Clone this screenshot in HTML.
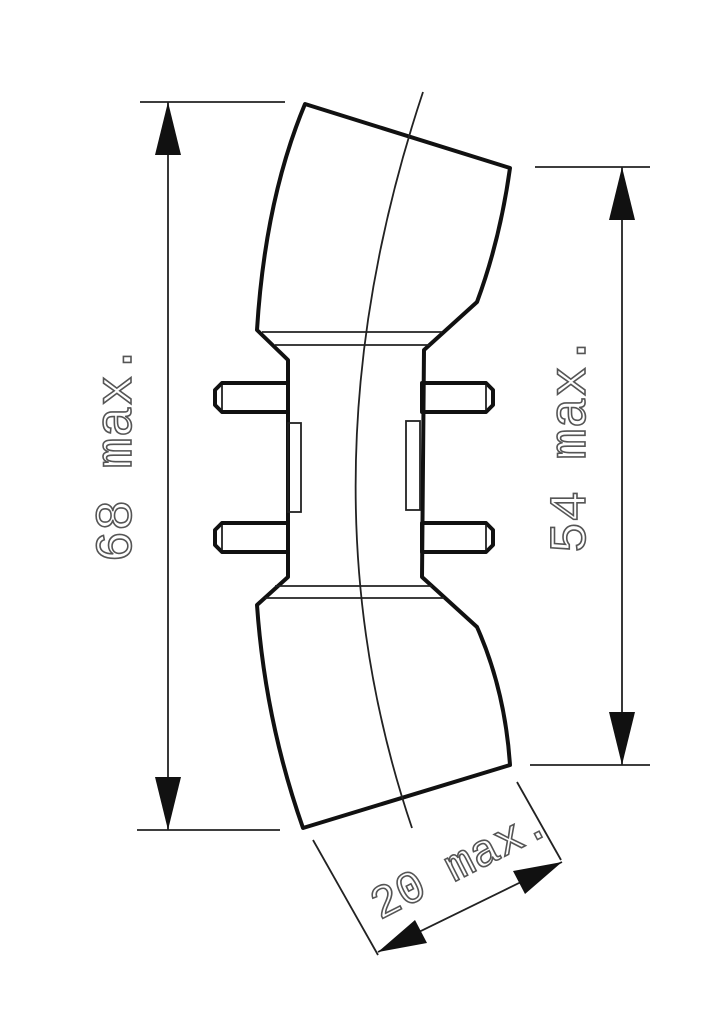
<!DOCTYPE html>
<html><head><style>body{margin:0;background:#fff}</style></head><body>
<svg width="722" height="1024" viewBox="0 0 722 1024" xmlns="http://www.w3.org/2000/svg">
<rect width="722" height="1024" fill="#fff"/>
<g fill="none" stroke="#111" stroke-width="4" stroke-linejoin="round">
<path d="M305,104 L510,168 Q500,240 477,302 L424,350 L422,577 L477,627 Q505,690 510,765 L303,828 Q265,720 257,605 L288,577 L288,360 L257,330 Q265,200 305,104 Z"/>
<path d="M215,390 L222,383 L288,383 L288,412 L222,412 L215,405 Z"/>
<path d="M215,530 L222,523 L288,523 L288,552 L222,552 L215,545 Z"/>
<path d="M493,390 L486,383 L422,383 L422,412 L486,412 L493,405 Z"/>
<path d="M493,530 L486,523 L422,523 L422,552 L486,552 L493,545 Z"/>
</g>
<g fill="none" stroke="#222" stroke-width="1.8">
<line x1="262" y1="332" x2="442" y2="332"/>
<line x1="275" y1="345" x2="430" y2="345"/>
<line x1="275" y1="586" x2="432" y2="586"/>
<line x1="265" y1="598" x2="444" y2="598"/>
<rect x="288" y="423" width="13" height="89"/>
<rect x="406" y="421" width="14" height="89"/>
<line x1="222" y1="385" x2="222" y2="410"/><line x1="222" y1="525" x2="222" y2="550"/>
<line x1="486" y1="385" x2="486" y2="410"/><line x1="486" y1="525" x2="486" y2="550"/>
<path d="M423,92 Q294,480 412,828"/>
<line x1="140" y1="102" x2="285" y2="102"/>
<line x1="137" y1="830" x2="280" y2="830"/>
<line x1="168" y1="102" x2="168" y2="830"/>
<line x1="535" y1="167" x2="650" y2="167"/>
<line x1="530" y1="765" x2="650" y2="765"/>
<line x1="622" y1="167" x2="622" y2="765"/>
<line x1="313" y1="840" x2="378" y2="955"/>
<line x1="517" y1="782" x2="561" y2="860"/>
<line x1="378" y1="952" x2="562" y2="862"/>
</g>
<g fill="#111">
<polygon points="168,102 155,155 181,155"/>
<polygon points="168,830 155,777 181,777"/>
<polygon points="622,167 609,220 635,220"/>
<polygon points="622,765 609,712 635,712"/>
<polygon points="378,952 415,920 427,943"/>
<polygon points="562,862 525,894 513,871"/>
</g>
<g font-family="Liberation Mono, monospace" fill="#fff" stroke="#555" stroke-width="1.6" text-anchor="middle">
<text font-size="52" transform="translate(131,453) rotate(-90)">68 max.</text>
<text font-size="52" transform="translate(585,444) rotate(-90)">54 max.</text>
<text font-size="46" transform="translate(466,876) rotate(-27)">20 max.</text>
</g>
</svg>
</body></html>
